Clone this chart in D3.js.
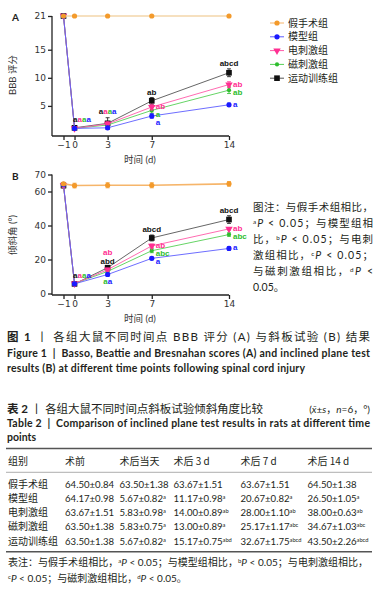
<!DOCTYPE html>
<html>
<head>
<meta charset="utf-8">
<script src="https://cdn.jsdelivr.net/npm/d3@7"></script>
<style>
  body { margin: 0; background: #fff; }
  svg { display: block; }
</style>
</head>
<body>
<div id="chart"></div>
<script>
// ---- data ----
const days = [-1, 0, 3, 7, 14];
const groupNames = ["假手术组", "模型组", "电刺激组", "磁刺激组", "运动训练组"];

// A: BBB score
const bbbTicks = [5, 10, 15, 21];
const bbbSham = [21, 21, 21, 21, 21];
const bbbModel = [21, 1.0, 1.1, 3.2, 5.2];
const bbbElec = [21, 1.0, 1.8, 4.8, 8.8];
const bbbMag = [21, 1.0, 1.6, 4.2, 7.8];
const bbbExer = [21, 1.1, 1.9, 5.9, 10.9];
const bbbShamSd = [0, 0, 0, 0, 0];
const bbbModelSd = [0, 0.2, 0.3, 0.4, 0.3];
const bbbElecSd = [0, 0.2, 0.4, 0.5, 0.5];
const bbbMagSd = [0, 0.2, 0.4, 0.5, 0.6];
const bbbExerSd = [0, 0.3, 1.0, 0.6, 0.7];
const bbbShamSig = ["", "", "", "", ""];
const bbbModelSig = ["", "a", "a", "a", "a"];
const bbbElecSig = ["", "a", "a", "ab", "ab"];
const bbbMagSig = ["", "a", "a", "a", "ab"];
const bbbExerSig = ["", "a", "a", "ab", "abcd"];
const bbbLabelMode = ["", "stack", "stack", "side", "side"];

// B: inclined plane angle (also table 2)
const angleTicks = [0, 20, 40, 60, 70];
const angleSham = [64.50, 63.50, 63.67, 63.67, 64.50];
const angleModel = [64.17, 5.67, 11.17, 20.67, 26.50];
const angleElec = [63.67, 5.83, 14.00, 28.00, 38.00];
const angleMag = [63.50, 5.83, 13.00, 25.17, 34.67];
const angleExer = [63.50, 5.67, 15.17, 32.67, 43.50];
const angleShamSd = [0.84, 1.38, 1.51, 1.51, 1.38];
const angleModelSd = [0.98, 0.82, 0.98, 0.82, 1.05];
const angleElecSd = [1.51, 0.98, 0.89, 1.10, 0.63];
const angleMagSd = [1.38, 0.75, 0.89, 1.17, 1.03];
const angleExerSd = [1.38, 0.82, 0.75, 1.75, 2.26];
const angleShamSig = ["", "", "", "", ""];
const angleModelSig = ["", "a", "a", "a", "a"];
const angleElecSig = ["", "a", "ab", "ab", "ab"];
const angleMagSig = ["", "a", "a", "abc", "abc"];
const angleExerSig = ["", "a", "abd", "abcd", "abcd"];
const angleLabelMode = ["", "stack", "split", "side", "side"];

const tableHeads = ["组别", "术前", "术后当天", "术后 3 d", "术后 7 d", "术后 14 d"];

// ---- style ----
const colors = ["#f39a2b", "#1a1aff", "#ff2f92", "#2ebd2e", "#111111"];
const lineColorsA = ["#f3d6aa", "#5c5cff", "#ff5aa8", "#55cf55", "#555555"];
const lineColorsB = ["#f6b56a", "#5c5cff", "#ff5aa8", "#55cf55", "#555555"];
const symbolKinds = ["circle", "circle", "triangle", "dot", "square"];
const ink = "#231f20";
const nb = "\u00a0";
const cjk = "'Noto Sans CJK SC', sans-serif";
const latin = "Lato, 'Noto Sans CJK SC', sans-serif";
const tickFont = "'DejaVu Sans', sans-serif";
const sigFont = "'Liberation Sans', Arial, sans-serif";

const W = 381, H = 605;
const svg = d3.select("#chart").append("svg")
  .attr("width", W).attr("height", H)
  .style("background", "#fff");

const x = d3.scaleLinear().domain([-1, 14]).range([63.5, 229]);
const axisX0 = 52;

function makeSeries(vals, sds, sigs, lineColors) {
  return groupNames.map((name, i) => ({
    name: name, color: colors[i], line: lineColors[i], kind: symbolKinds[i],
    values: vals[i], sd: sds[i], sig: sigs[i]
  }));
}

function marker(g, kind, color, cx, cy) {
  if (kind === "square") {
    g.append("path").attr("d", d3.symbol(d3.symbolSquare, 32)())
      .attr("transform", "translate(" + cx + "," + cy + ")").attr("fill", color);
  } else if (kind === "triangle") {
    g.append("path").attr("d", d3.symbol(d3.symbolTriangle, 24)())
      .attr("transform", "translate(" + cx + "," + cy + ") rotate(180)").attr("fill", color);
  } else {
    g.append("circle").attr("cx", cx).attr("cy", cy)
      .attr("r", kind === "dot" ? 2.1 : 2.6).attr("fill", color);
  }
}

function drawPanel(p) {
  const y = d3.scaleLinear().domain(p.domain).range([p.y0, p.y1]);
  const g = svg.append("g");

  // y axis
  const ya = g.append("g").attr("transform", "translate(" + axisX0 + ",0)")
    .call(d3.axisLeft(y).tickValues(p.ticks).tickSize(4).tickPadding(2).tickSizeOuter(0));
  ya.select(".domain").attr("d", "M0," + p.axisY + "V" + p.y1);
  // x axis
  const xa = g.append("g").attr("transform", "translate(0," + p.axisY + ")")
    .call(d3.axisBottom(x).tickValues(days).tickSize(4).tickPadding(2).tickSizeOuter(0));
  xa.select(".domain").attr("d", "M" + axisX0 + ",0H" + x(14));
  g.selectAll(".domain, .tick line").attr("stroke", "#222").attr("stroke-width", 1.3);
  g.selectAll(".tick text").attr("fill", "#333").style("font-family", tickFont).style("font-size", "9px");

  // axis titles
  g.append("text").attr("transform", "translate(16," + p.labelY + ") rotate(-90)")
    .attr("text-anchor", "middle").attr("fill", "#333")
    .style("font-family", latin).style("font-size", "9.5px").text(p.yTitle);
  g.append("text").attr("x", 140).attr("y", p.axisY + 27).attr("text-anchor", "middle")
    .attr("fill", "#333").style("font-family", latin).style("font-size", "9.5px").text("时间 (d)");
  g.append("text").attr("x", 12).attr("y", p.y1 + 5).attr("fill", ink)
    .style("font-family", "Lato, sans-serif").style("font-weight", "bold").style("font-size", "10px")
    .text(p.letter);

  // lines, error bars, markers: black first, orange last
  const drawOrder = [4, 3, 2, 1, 0];
  const line = d3.line().x((v, i) => x(days[i])).y(v => y(v));
  drawOrder.forEach(k => {
    const s = p.series[k];
    g.append("path").attr("d", line(s.values)).attr("fill", "none")
      .attr("stroke", s.line).attr("stroke-width", k === 0 ? 1.6 : 0.9);
    s.values.forEach((v, i) => {
      if (s.sd[i] > 0) {
        const yt = y(v + s.sd[i]), yb = y(v - s.sd[i]), cx = x(days[i]);
        g.append("path").attr("d", "M" + cx + "," + yt + "V" + yb + "M" + (cx - 2) + "," + yt + "H" + (cx + 2) + "M" + (cx - 2) + "," + yb + "H" + (cx + 2))
          .attr("stroke", s.color).attr("stroke-width", 0.8).attr("fill", "none");
      }
      marker(g, s.kind, s.color, x(days[i]), y(v));
    });
  });

  // significance letters
  const lab = g.append("g").style("font-family", sigFont).style("font-size", "8px").style("font-weight", "bold");
  p.modes.forEach((mode, i) => {
    if (!mode) return;
    const px = x(days[i]);
    const top = k => y(p.series[k].values[i] + p.series[k].sd[i]);
    const bot = k => y(p.series[k].values[i] - p.series[k].sd[i]);
    const pt = k => y(p.series[k].values[i]);
    if (mode === "stack") {
      const order = [4, 2, 3, 1];
      const t = lab.append("text").attr("x", days[i] === 0 ? px - 1.5 : px)
        .attr("y", d3.min(order, top) - 4)
        .attr("text-anchor", days[i] === 0 ? "start" : "middle");
      order.forEach(k => t.append("tspan").attr("fill", p.series[k].color).text(p.series[k].sig[i]));
    } else if (mode === "split") {
      const b1 = top(4) - 2;
      lab.append("text").attr("x", px).attr("y", b1).attr("text-anchor", "middle")
        .attr("fill", p.series[4].color).text(p.series[4].sig[i]);
      lab.append("text").attr("x", px).attr("y", b1 - 9.5).attr("text-anchor", "middle")
        .attr("fill", p.series[2].color).text(p.series[2].sig[i]);
      const t = lab.append("text").attr("x", px).attr("y", d3.max([3, 1], bot) + 8)
        .attr("text-anchor", "middle");
      [3, 1].forEach(k => t.append("tspan").attr("fill", p.series[k].color).text(p.series[k].sig[i]));
    } else {
      lab.append("text").attr("x", px).attr("y", top(4) - 2.5).attr("text-anchor", "middle")
        .attr("fill", p.series[4].color).text(p.series[4].sig[i]);
      let prev = -Infinity;
      [2, 3, 1].sort((a, b) => pt(a) - pt(b)).forEach(k => {
        const base = Math.max(pt(k) + 2, prev + 8);
        prev = base;
        lab.append("text").attr("x", px + 4).attr("y", base)
          .attr("fill", p.series[k].color).text(p.series[k].sig[i]);
      });
    }
  });
}

const seriesA = makeSeries(
  [bbbSham, bbbModel, bbbElec, bbbMag, bbbExer],
  [bbbShamSd, bbbModelSd, bbbElecSd, bbbMagSd, bbbExerSd],
  [bbbShamSig, bbbModelSig, bbbElecSig, bbbMagSig, bbbExerSig], lineColorsA);
const seriesB = makeSeries(
  [angleSham, angleModel, angleElec, angleMag, angleExer],
  [angleShamSd, angleModelSd, angleElecSd, angleMagSd, angleExerSd],
  [angleShamSig, angleModelSig, angleElecSig, angleMagSig, angleExerSig], lineColorsB);

drawPanel({ letter: "A", series: seriesA, domain: [0, 21], y0: 134, y1: 16, axisY: 136,
  ticks: bbbTicks, yTitle: "BBB 评分", labelY: 75, modes: bbbLabelMode });
drawPanel({ letter: "B", series: seriesB, domain: [0, 70], y0: 293.5, y1: 174.5, axisY: 295,
  ticks: angleTicks, yTitle: "倾斜角 (°)", labelY: 235, modes: angleLabelMode });

// legend
const legend = svg.append("g");
groupNames.forEach((name, i) => {
  const ly = 23 + i * 13.8;
  legend.append("line").attr("x1", 270).attr("x2", 284).attr("y1", ly).attr("y2", ly)
    .attr("stroke", lineColorsB[i]).attr("stroke-width", 1);
  marker(legend, symbolKinds[i], colors[i], 277, ly);
  legend.append("text").attr("x", 288).attr("y", ly + 3.6).attr("fill", ink)
    .style("font-family", cjk).style("font-size", "10px").text(name);
});

// rich text helper: parts are strings, or [text, "b"|"i"|"sup"]
function rich(parent, xx, yy, parts, opts) {
  const t = parent.append("text").attr("x", xx).attr("y", yy).attr("fill", ink)
    .style("font-family", opts.family || latin).style("font-size", opts.size + "px");
  if (opts.weight) t.style("font-weight", opts.weight);
  if (opts.length) t.attr("textLength", opts.length).attr("lengthAdjust", "spacing");
  if (opts.anchor) t.attr("text-anchor", opts.anchor);
  parts.forEach(pt => {
    if (typeof pt === "string") { t.append("tspan").text(pt); return; }
    const sp = t.append("tspan").text(pt[0]);
    if (pt[1] === "b") sp.style("font-weight", "bold");
    if (pt[1] === "i") sp.style("font-style", "italic");
    if (pt[1] === "sup") sp.attr("baseline-shift", "super").style("font-size", (opts.size * 0.6) + "px");
  });
  return t;
}

// note next to panel B
const noteLines = [
  ["图注：与假手术组相比，"],
  [["a", "sup"], ["P", "i"], " < 0.05；与模型组相"],
  ["比，", ["b", "sup"], ["P", "i"], " < 0.05；与电刺"],
  ["激组相比，", ["c", "sup"], ["P", "i"], " < 0.05；"],
  ["与磁刺激组相比，", ["d", "sup"], ["P", "i"], " <"],
  ["0.05。"]
];
noteLines.forEach((ln, i) => {
  rich(svg, 253, 210.5 + i * 16, ln, { size: 10.5, length: i < 5 ? 120 : null });
});

// figure caption
rich(svg, 7, 341, [["图 1", "b"], nb + "丨" + nb + "各组大鼠不同时间点 BBB 评分 (A) 与斜板试验 (B) 结果"], { size: 11.5, length: 363 });
rich(svg, 7, 356.5, ["Figure 1" + nb + nb + "|" + nb + nb + "Basso, Beattie and Bresnahan scores (A) and inclined plane test"], { size: 10.5, weight: "bold", length: 363 });
rich(svg, 7, 371.5, ["results (B) at different time points following spinal cord injury"], { size: 10.5, weight: "bold", length: 298 });

// table caption
rich(svg, 7, 413, [["表 2", "b"], nb + "丨" + nb + "各组大鼠不同时间点斜板试验倾斜角度比较"], { size: 11.5, length: 256 });
rich(svg, 370, 413, ["(", ["x̄", "i"], "±", ["s", "i"], "，", ["n", "i"], "=6，°)"], { size: 10, anchor: "end" });
rich(svg, 7, 427, ["Table 2" + nb + nb + "|" + nb + nb + "Comparison of inclined plane test results in rats at different time"], { size: 10.5, weight: "bold", length: 363 });
rich(svg, 7, 441, ["points"], { size: 10.5, weight: "bold" });

// table
const colX = [8, 65, 119.5, 173.5, 240.5, 307.5];
const tbl = svg.append("g");
tbl.append("line").attr("x1", 6).attr("x2", 372).attr("y1", 448.5).attr("y2", 448.5).attr("stroke", "#555").attr("stroke-width", 1.6);
tbl.append("line").attr("x1", 6).attr("x2", 372).attr("y1", 472.3).attr("y2", 472.3).attr("stroke", "#999").attr("stroke-width", 0.8);
tbl.append("line").attr("x1", 6).attr("x2", 372).attr("y1", 551.8).attr("y2", 551.8).attr("stroke", "#555").attr("stroke-width", 1.6);
tableHeads.forEach((h, j) => {
  rich(tbl, colX[j], 465, [h], { size: 10, family: cjk });
});
const angleVals = [angleSham, angleModel, angleElec, angleMag, angleExer];
const angleSds = [angleShamSd, angleModelSd, angleElecSd, angleMagSd, angleExerSd];
const angleSigs = [angleShamSig, angleModelSig, angleElecSig, angleMagSig, angleExerSig];
groupNames.forEach((name, r) => {
  const ry = 487.5 + r * 14.3;
  rich(tbl, colX[0], ry, [name], { size: 10, family: cjk });
  days.forEach((d, j) => {
    const parts = [angleVals[r][j].toFixed(2) + "±" + angleSds[r][j].toFixed(2)];
    if (angleSigs[r][j]) parts.push([angleSigs[r][j], "sup"]);
    rich(tbl, colX[j + 1], ry, parts, { size: 9.6 });
  });
});
rich(svg, 8, 566, ["表注：与假手术组相比，", ["a", "sup"], ["P", "i"], " < 0.05；与模型组相比，", ["b", "sup"], ["P", "i"], " < 0.05；与电刺激组相比，"], { size: 10, length: 360 });
rich(svg, 8, 582, [["c", "sup"], ["P", "i"], " < 0.05；与磁刺激组相比，", ["d", "sup"], ["P", "i"], " < 0.05。"], { size: 10 });
</script>
</body>
</html>
